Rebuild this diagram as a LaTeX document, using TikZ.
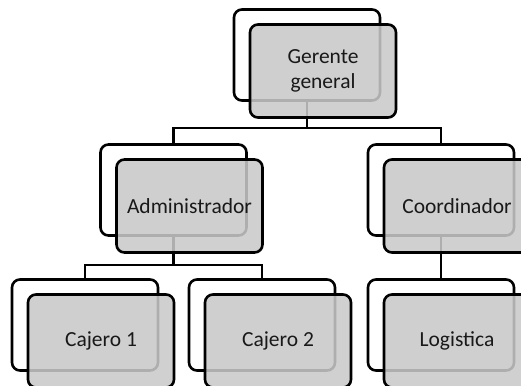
\documentclass[tikz,border=0pt]{standalone}
\usepackage{fontspec}
\setmainfont{Carlito}
\begin{document}
\begin{tikzpicture}[x=1pt,y=-1pt,
  backbox/.style={draw=black, line width=2.6pt, rounded corners=8pt,
    minimum width=146pt, minimum height=91pt, inner sep=0pt, fill=white},
  frontbox/.style={draw=black, line width=2.6pt, rounded corners=8pt,
    minimum width=146pt, minimum height=93pt, inner sep=0pt,
    fill=black!21, fill opacity=0.87, draw opacity=1, text opacity=1,
    text=black!90, font=\fontsize{21.5}{24.5}\selectfont, align=center},
  link/.style={line width=2.4pt, draw=black}]
\useasboundingbox (0,0) rectangle (521,385);
\clip (0,0) rectangle (521,385);
% back boxes
\node[backbox] (gb) at (307,55) {};
\node[backbox] (ab) at (173.5,190) {};
\node[backbox] (cb) at (441,190) {};
\node[backbox] (c1b) at (85,325) {};
\node[backbox] (c2b) at (262,325) {};
\node[backbox] (lb) at (441,325) {};
% junction rows
\coordinate (r1) at (0,128);
\coordinate (r2) at (0,265);
% connectors
\draw[link] (gb.south) -- (gb.south |- r1) -| (ab.north);
\draw[link] (gb.south |- r1) -| (cb.north);
\draw[link] (ab.south) -- (ab.south |- r2) -| (c1b.north);
\draw[link] (ab.south |- r2) -| (c2b.north);
\draw[link] (cb.south) -- (lb.north);
% front boxes
\node[frontbox] (g) at (323,71) {Gerente\\general};
\node[frontbox] (a) at (189.5,206) {Administrador};
\node[frontbox] (c) at (457,206) {Coordinador};
\node[frontbox] (c1) at (101,341) {Cajero 1};
\node[frontbox] (c2) at (278,341) {Cajero 2};
\node[frontbox] (l) at (457,341) {Logistica};
\end{tikzpicture}
\end{document}
